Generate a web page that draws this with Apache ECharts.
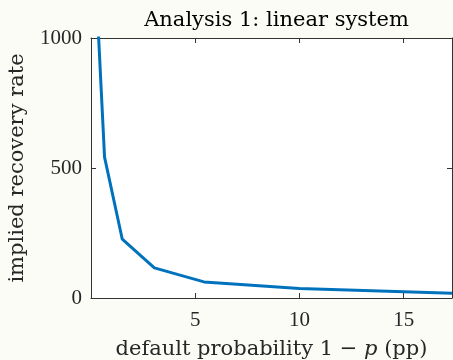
<!DOCTYPE html>
<html>
<head>
<meta charset="utf-8">
<script src="https://cdn.jsdelivr.net/npm/echarts@6/dist/echarts.min.js"></script>
<style>
  html, body { margin: 0; padding: 0; background: #fcfcf6; }
  #chart { width: 453px; height: 360px; }
</style>
</head>
<body>
<div id="chart"></div>
<script>
// Default probability (pp) and implied recovery rate from the linear system
const defaultProb = [0.33, 0.65, 1.5, 3.04, 5.42, 10.0, 17.32];
const recoveryRate = [1060, 542, 226, 116, 62, 37, 18];
const xTicks = [5, 10, 15];
const yTicks = [0, 500, 1000];

const NUM_FONT = '"Liberation Serif", serif';
const TEXT_FONT = '"DejaVu Serif", serif';
const AX = '#333333';
const TXT = '#262626';

const chart = echarts.init(document.getElementById('chart'), null, { renderer: 'canvas' });

const boxAxis = {
  axisLine: { show: true, onZero: false, lineStyle: { color: AX, width: 1 } },
  axisTick: { show: true, inside: true, length: 5, lineStyle: { color: AX, width: 1 } },
  splitLine: { show: false }
};

chart.setOption({
  backgroundColor: '#fcfcf6',
  animation: false,
  title: {
    text: 'Analysis 1: linear system',
    left: 271.5,
    textAlign: 'center',
    top: 5,
    textStyle: { fontFamily: TEXT_FONT, fontSize: 21, fontWeight: 'normal', color: '#000' }
  },
  grid: {
    left: 91, right: 1, top: 38, bottom: 62,
    outerBoundsMode: 'none', containLabel: false,
    show: true, backgroundColor: '#ffffff', borderWidth: 0
  },
  xAxis: [
    Object.assign({}, boxAxis, {
      type: 'value', position: 'bottom', min: 0, max: 17.32, interval: 5,
      axisLabel: {
        fontFamily: NUM_FONT, fontSize: 21, color: TXT, margin: 12,
        formatter: v => (xTicks.includes(v) ? String(v) : '')
      },
      name: '{n|default probability 1 − }{i|p}{n| (pp)}',
      nameLocation: 'middle', nameGap: 41,
      nameTextStyle: {
        rich: {
          n: { fontFamily: TEXT_FONT, fontSize: 21, color: TXT },
          i: { fontFamily: TEXT_FONT, fontSize: 21, color: TXT, fontStyle: 'italic' }
        }
      }
    }),
    Object.assign({}, boxAxis, {
      type: 'value', position: 'top', min: 0, max: 17.32, interval: 5,
      axisLabel: { show: false }
    })
  ],
  yAxis: [
    Object.assign({}, boxAxis, {
      type: 'value', position: 'left', min: 0, max: 1000, interval: 500,
      axisLabel: {
        fontFamily: NUM_FONT, fontSize: 21, color: TXT, margin: 9,
        formatter: v => (yTicks.includes(v) ? String(v) : '')
      },
      name: 'implied recovery rate',
      nameLocation: 'middle', nameGap: 63,
      nameTextStyle: { fontFamily: TEXT_FONT, fontSize: 21, color: TXT }
    }),
    Object.assign({}, boxAxis, {
      type: 'value', position: 'right', min: 0, max: 1000, interval: 500,
      axisLabel: { show: false }
    })
  ],
  series: [{
    type: 'line',
    xAxisIndex: 0,
    yAxisIndex: 0,
    data: defaultProb.map((x, i) => [x, recoveryRate[i]]),
    showSymbol: false,
    clip: true,
    lineStyle: { color: '#0072BD', width: 3 },
    itemStyle: { color: '#0072BD' }
  }]
});
</script>
</body>
</html>
